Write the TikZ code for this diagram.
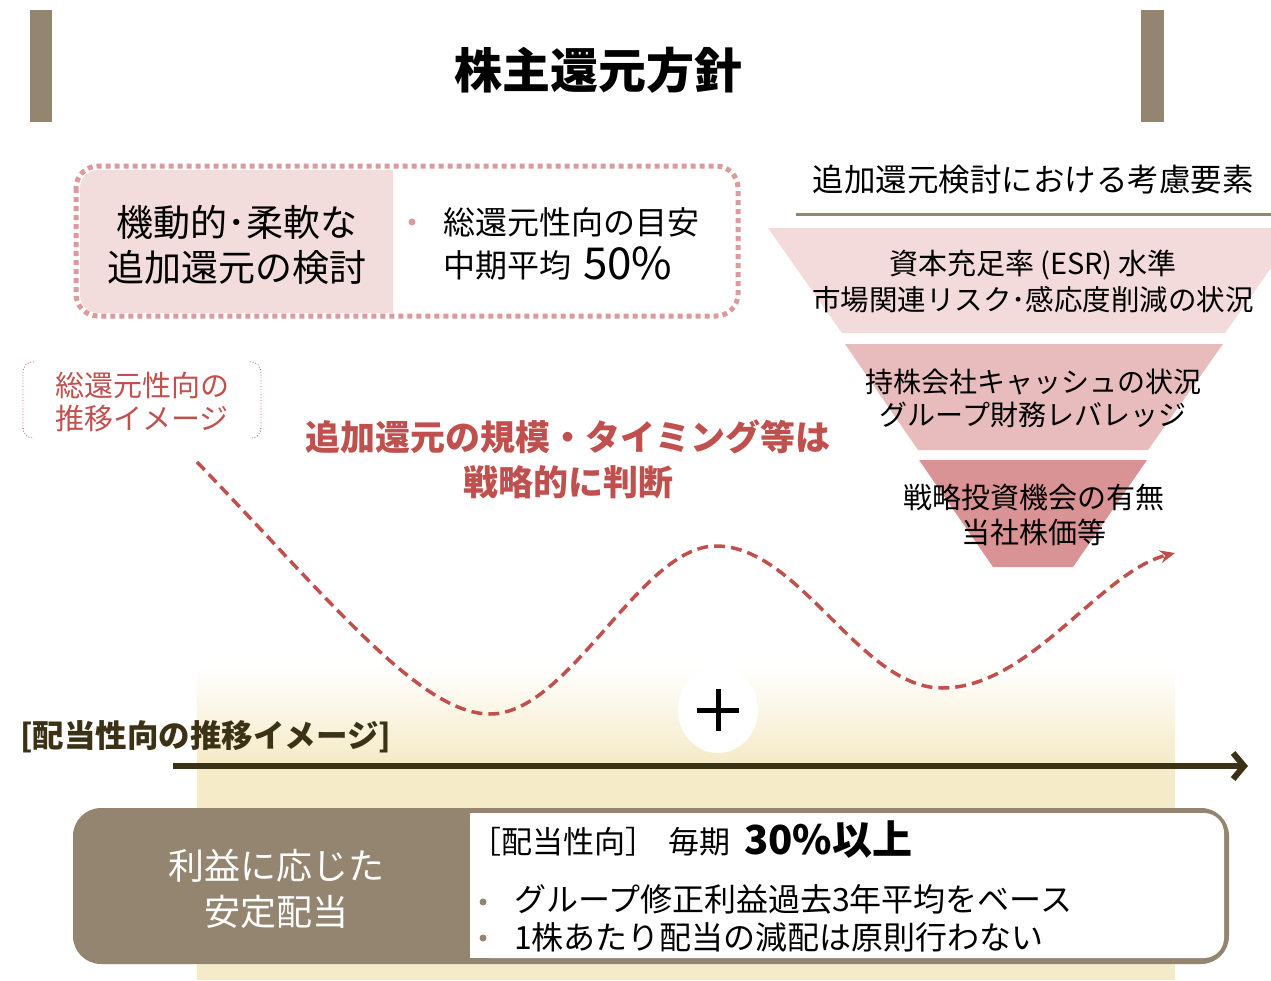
\documentclass[tikz,border=0pt]{standalone}
\usepackage{fontspec}
\setmainfont{Noto Sans CJK JP}
\usetikzlibrary{arrows.meta,shapes.geometric}
\definecolor{brn}{HTML}{938570}
\definecolor{pinkd}{HTML}{DC9A9C}
\definecolor{pinkf}{HTML}{F2DCDC}
\definecolor{fun1}{HTML}{F3DADB}
\definecolor{fun2}{HTML}{E8BCBD}
\definecolor{fun3}{HTML}{DA9394}
\definecolor{redc}{HTML}{C0504D}
\definecolor{beige}{HTML}{F5EBC8}
\definecolor{axisc}{HTML}{3B3216}
\newcommand\fsz[1]{\fontsize{#1}{#1}\selectfont}
\begin{document}
\begin{tikzpicture}[x=1pt,y=-1pt,
  txt/.style={inner sep=0pt, outer sep=0pt, anchor=center},
  txtw/.style={inner sep=0pt, outer sep=0pt, anchor=west},
  bar/.style={fill=brn},
  dotbox/.style={draw=pinkd, line width=5pt, dash pattern=on 5pt off 4pt, rounded corners=22pt},
  brk/.style={draw=redc, line width=0.8pt, dotted},
  wave/.style={draw=redc, line width=3.5pt, dash pattern=on 11pt off 6pt, -{Stealth[length=15pt,width=13pt]}},
  axis/.style={draw=axisc, line width=6pt, -{Straight Barb[length=11pt,width=26pt]}}]
\useasboundingbox (0,0) rectangle (1271,980);
\fill[white] (0,0) rectangle (1271,980);

% beige background
\shade[top color=white, bottom color=beige] (197,665) rectangle (1175,762);
\fill[beige] (197,761) rectangle (1175,980);

% title bars
\fill[bar] (30,10) rectangle (52,122);
\fill[bar] (1141,10) rectangle (1164,122);
\node[txt] (title) at (598,70) {\fsz{48}\bfseries 株主還元方針};

% top-left dotted box
\fill[pinkf, rounded corners=18pt] (80,170) rectangle (420,313);
\fill[white] (393,170) rectangle (430,313);
\draw[dotbox] (76,166) rectangle (738,316);
\node[txt] (l1) at (237,222) {\fsz{37}機動的･柔軟な};
\node[txt] (l2) at (237,267) {\fsz{37}追加還元の検討};
\fill[pinkd] (412,222) circle (3.5pt);
\node[txtw] (r1) at (443,222) {\fsz{32}総還元性向の目安};
\node[txtw] (r2) at (443,265) {\fsz{32}中期平均};
\node[txtw] (r3) at (583,263) {\fsz{44}50\%};

% right header
\node[txt] (hdr) at (1033,180) {\fsz{31.5}追加還元検討における考慮要素};
\draw[brn, line width=3pt] (796,214) -- (1271,214);

% funnel
\fill[fun1] (768,228) -- (1271,228) -- (1271,268) -- (1225,333) -- (842,333) -- cycle;
\fill[fun2] (845,344) -- (1223,344) -- (1148,450) -- (918,450) -- cycle;
\fill[fun3] (919,460) -- (1147,460) -- (1073,567) -- (993,567) -- cycle;
\node[txt] (f1) at (1033,265) {\fsz{29}資本充足率\hspace{6pt}(ESR)\hspace{6pt}水準};
\node[txt] (f2) at (1033,300) {\fsz{28.5}市場関連リスク･感応度削減の状況};
\node[txt] (f3) at (1033,382) {\fsz{28}持株会社キャッシュの状況};
\node[txt] (f4) at (1033,415) {\fsz{28}グループ財務レバレッジ};
\node[txt] (f5) at (1034,497) {\fsz{29}戦略投資機会の有無};
\node[txt] (f6) at (1034,532) {\fsz{29}当社株価等};

% bracket label
\draw[brk] (34,362) .. controls (26,362) and (23,366) .. (23,374) -- (23,426) .. controls (23,434) and (26,438) .. (34,438);
\draw[brk] (250,362) .. controls (258,362) and (261,366) .. (261,374) -- (261,426) .. controls (261,434) and (258,438) .. (250,438);
\node[txt, text=redc] (b1) at (142,385) {\fsz{29}総還元性向の};
\node[txt, text=redc] (b2) at (142,418) {\fsz{29}推移イメージ};

% red bold text
\node[txt, text=redc] (m1) at (568,437) {\fsz{35}\bfseries 追加還元の規模・タイミング等は};
\node[txt, text=redc] (m2) at (568,482) {\fsz{35}\bfseries 戦略的に判断};

% plus circle
\node[ellipse, fill=white, minimum width=80pt, minimum height=86pt, inner sep=0pt] (plus) at (718,710) {};
\draw[line width=5pt] ([xshift=-21pt]plus.center) -- ([xshift=21pt]plus.center);
\draw[line width=5pt] ([yshift=-21pt]plus.center) -- ([yshift=21pt]plus.center);

% wave
\coordinate (c0) at (197,462);
\coordinate (c1) at (490,714);
\coordinate (c2) at (716,546);
\coordinate (c3) at (942,688);
\coordinate (c4) at (1175,553);
\draw[wave] (c0) .. controls (330,600) and (420,714) .. (c1)
  .. controls (570,714) and (640,546) .. (c2)
  .. controls (800,546) and (860,688) .. (c3)
  .. controls (1030,688) and (1100,572) .. (c4);

% axis
\node[txtw, text=axisc] (ax) at (20,737) {\fsz{31.5}\bfseries [配当性向の推移イメージ]};
\coordinate (a0) at (173,766);
\coordinate (a1) at (1248,766);
\draw[axis] (a0) -- (a1);

% bottom box
\fill[brn, rounded corners=28pt] (73,808) rectangle (1229,964);
\fill[white, rounded corners=20pt] (470,813) rectangle (1224,958);
\fill[white] (470,813) rectangle (520,958);
\node[txt, text=white] (s1) at (276,866) {\fsz{36}利益に応じた};
\node[txt, text=white] (s2) at (276,912) {\fsz{36}安定配当};
\node[txtw] (p1) at (470,842) {\fsz{31}［配当性向］};
\node[txtw] (p2) at (668,842) {\fsz{31}毎期};
\node[txtw] (p3) at (744,840) {\fsz{40}\bfseries 30\%以上};
\fill[brn] (483,902) circle (3.5pt);
\fill[brn] (483,938) circle (3.5pt);
\node[txtw] (q1) at (514,899) {\fsz{32}グループ修正利益過去3年平均をベース};
\node[txtw] (q2) at (514,937) {\fsz{32}1株あたり配当の減配は原則行わない};
\end{tikzpicture}
\end{document}
